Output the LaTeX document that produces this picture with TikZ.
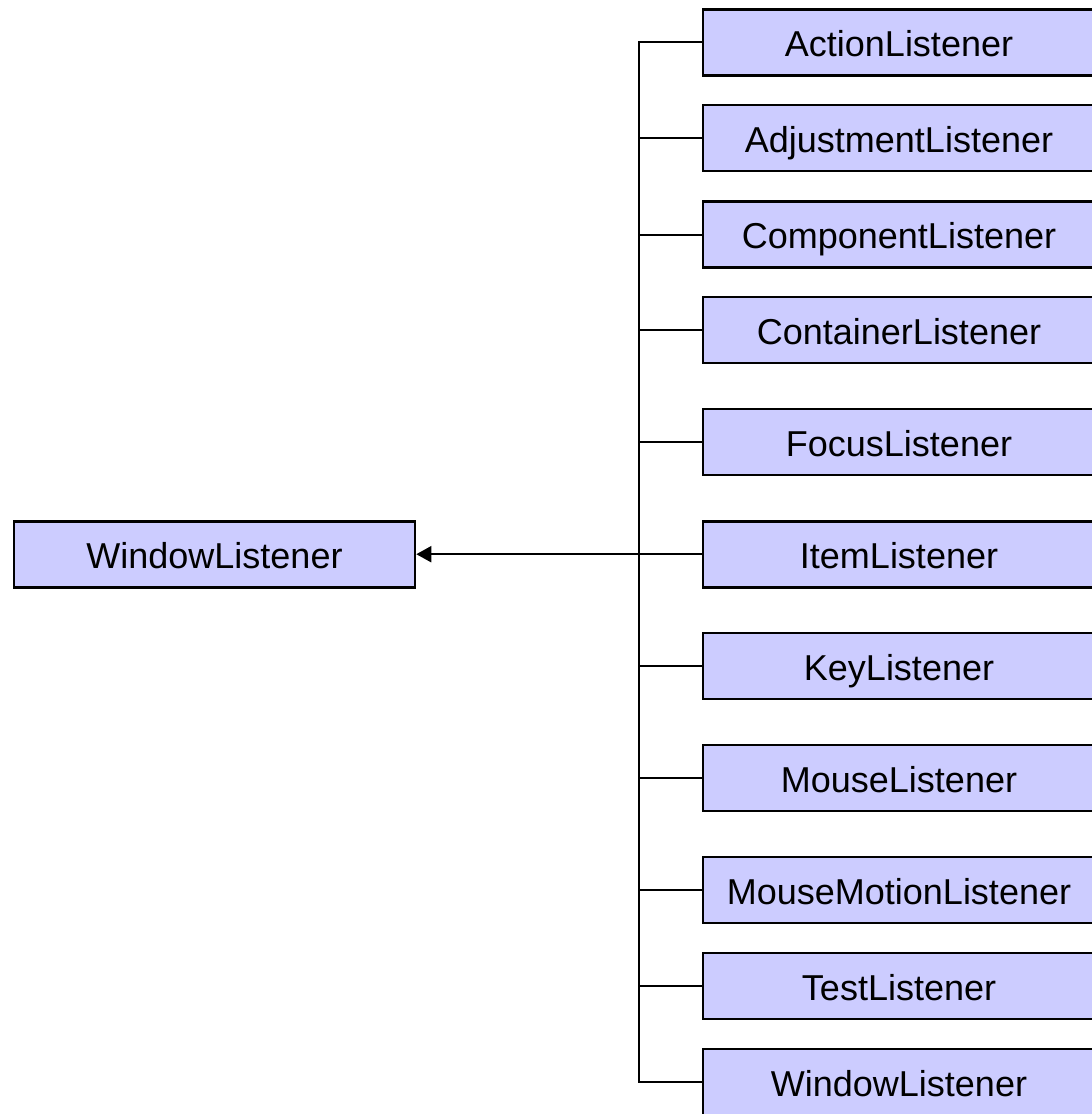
\documentclass[tikz,border=0pt]{standalone}
\usepackage{fontspec}
\setmainfont{Liberation Sans}
\usetikzlibrary{arrows.meta}
\definecolor{boxfill}{HTML}{CCCCFF}
\tikzset{
  cls/.style={draw=black, line width=1.3pt, fill=boxfill, minimum height=33pt, inner sep=0pt, text height=14.4pt, text depth=0pt, font=\fontsize{18}{20}\selectfont, anchor=center},
  rbox/.style={cls, minimum width=196pt},
  lbox/.style={cls, minimum width=200.5pt},
  conn/.style={line width=1pt, draw=black},
}
\begin{document}
\begin{tikzpicture}[x=0.5pt,y=-0.5pt]
\useasboundingbox (0,0) rectangle (1092,1114);
\node[lbox] (win) at (214.5,554.2) {WindowListener};
\node[rbox] (r1) at (899,42.3) {ActionListener};
\node[rbox] (r2) at (899,138) {AdjustmentListener};
\node[rbox] (r3) at (899,234.5) {ComponentListener};
\node[rbox] (r4) at (899,330) {ContainerListener};
\node[rbox] (r5) at (899,442) {FocusListener};
\node[rbox] (r6) at (899,554.2) {ItemListener};
\node[rbox] (r7) at (899,666) {KeyListener};
\node[rbox] (r8) at (899,778) {MouseListener};
\node[rbox] (r9) at (899,890) {MouseMotionListener};
\node[rbox] (r10) at (899,986) {TestListener};
\node[rbox] (r11) at (899,1082) {WindowListener};
\coordinate (top) at (638.5,0 |- r1.west);
\coordinate (bot) at (638.5,0 |- r11.west);
\draw[conn] (r1.west) -- (top) -- (bot) -- (r11.west);
\foreach \i in {2,...,10} {
  \draw[conn] (r\i.west) -- (r\i.west -| top);
}
\draw[conn, -{Triangle[length=7.5pt,width=8pt]}] (r6.west -| top) -- (win.east);
\end{tikzpicture}
\end{document}
